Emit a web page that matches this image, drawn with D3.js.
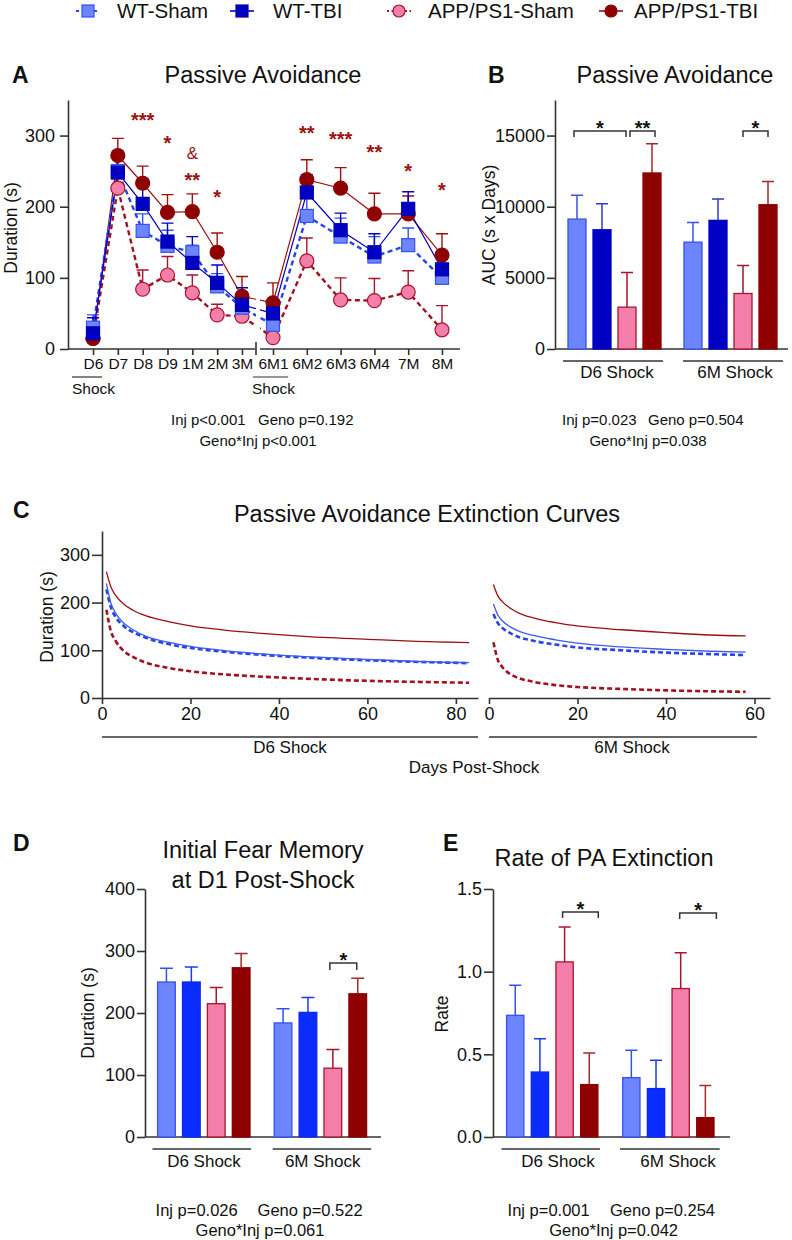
<!DOCTYPE html>
<html><head><meta charset="utf-8">
<script src="https://cdn.jsdelivr.net/npm/d3@7"></script>
<style>body{margin:0;background:#fff} svg{display:block;font-family:"Liberation Sans",Arial,Helvetica,sans-serif}</style>
</head><body><svg id="fig" width="792" height="1240"></svg>
<script>
// ================= DATA =================
const groups = ["WT-Sham","WT-TBI","APP/PS1-Sham","APP/PS1-TBI"];
const shockGroups = ["D6 Shock","6M Shock"];

// Panel A: passive avoidance over time
const tpA1 = ["D6","D7","D8","D9","1M","2M","3M"];
const tpA2 = ["6M1","6M2","6M3","6M4","7M","8M"];
const paWTSham   = [30,250,166,145,136,88,58,   34,187,158,130,146,100];
const paWTTBI    = [22,248,204,151,121,93,62,   50,220,167,136,197,112];
const paAPPSham  = [15,226,84,104,79,48,46,     16,124,69,68,80,27];
const paAPPTBI   = [15,272,233,192,193,136,74,  65,238,226,190,190,132];
const paErrWTSham  = [18,22,24,22,10,18,22,  24,25,26,28,24,15];
const paErrWTTBI   = [22,25,25,26,37,25,24,  15,25,24,26,24,18];
const paErrAPPSham = [10,20,27,26,25,15,12,  10,32,31,31,30,34];
const paErrAPPTBI  = [20,24,24,25,25,27,28,  28,28,29,29,25,30];
const sigA = [
  {tp:"D8", y:115, t:"***"},{tp:"D9", y:138, t:"*"},{tp:"1M", y:153, t:"&"},
  {tp:"1M", y:175, t:"**"},{tp:"2M", y:192, t:"*"},{tp:"6M2", y:128, t:"**"},
  {tp:"6M3", y:134, t:"***"},{tp:"6M4", y:147, t:"**"},{tp:"7M", y:166, t:"*"},
  {tp:"8M", y:185, t:"*"}
];

// Panel B: AUC
const aucD6    = [9130, 8380, 2940, 12370];
const aucErrD6 = [1670, 1830, 2430, 2060];
const auc6M    = [7510, 9040, 3900, 10140];
const aucErr6M = [1380, 1500, 1970, 1640];

// Panel C: extinction curves  [day, duration]
const cD6APPTBI  = [[1,265],[2,233],[3,216],[5,196],[7,184],[10,172],[15,160],[20,151],[30,140],[40,133],[50,127],[60,123],[70,119],[83,116]];
const cD6WTTBI   = [[1,240],[2,199],[3,179],[5,156],[7,143],[10,129],[15,117],[20,108],[30,97],[40,90],[50,85],[60,81],[70,77],[83,74]];
const cD6WTSham  = [[1,228],[2,190],[3,171],[5,150],[7,138],[10,126],[15,113],[20,105],[30,95],[40,88],[50,83],[60,79],[70,76],[83,73]];
const cD6APPSham = [[1,185],[2,140],[3,121],[5,98],[7,86],[10,74],[15,63],[20,56],[30,48],[40,43],[50,39],[60,36],[70,34],[83,32]];
const c6MAPPTBI  = [[1,238],[2,214],[3,202],[5,187],[7,177],[10,168],[15,158],[20,151],[30,143],[40,137],[50,132],[58,130]];
const c6MWTTBI   = [[1,197],[2,174],[3,162],[5,148],[7,139],[10,131],[15,122],[20,115],[30,107],[40,102],[50,98],[58,96]];
const c6MWTSham  = [[1,176],[2,157],[3,147],[5,135],[7,127],[10,120],[15,112],[20,106],[30,100],[40,95],[50,92],[58,90]];
const c6MAPPSham = [[1,117],[2,80],[3,65],[5,49],[7,41],[10,34],[15,27],[20,23],[30,19],[40,16],[50,14],[58,13]];

// Panel D: initial fear memory
const ifmD6    = [250, 250, 215, 273];
const ifmErrD6 = [22, 24, 26, 23];
const ifm6M    = [184, 201, 111, 231];
const ifmErr6M = [23, 24, 30, 25];

// Panel E: rate of extinction
const rateD6    = [0.736, 0.393, 1.059, 0.317];
const rateErrD6 = [0.182, 0.202, 0.211, 0.191];
const rate6M    = [0.359, 0.293, 0.898, 0.117];
const rateErr6M = [0.165, 0.171, 0.217, 0.194];

const statsA = ["Inj p<0.001","Geno p=0.192","Geno*Inj p<0.001"];
const statsB = ["Inj p=0.023","Geno p=0.504","Geno*Inj p=0.038"];
const statsD = ["Inj p=0.026","Geno p=0.522","Geno*Inj p=0.061"];
const statsE = ["Inj p=0.001","Geno p=0.254","Geno*Inj p=0.042"];

// ================= STYLE =================
const COL = {
  wtSham:"#6d86ff", wtShamStroke:"#3451ee", wtShamLine:"#2743e8",
  wtTBI:"#0000c4", wtTBIBright:"#0a2cff", wtTBIStroke:"#0000a8",
  appSham:"#f57fab", appShamStroke:"#a8142c", appShamLine:"#a3101e",
  appTBI:"#8f0000", appTBILine:"#9e1010",
  axis:"#333", text:"#111", star:"#9c1111"
};
const svg = d3.select("#fig");

function txt(g, x, yc, s, o = {}) {
  const size = o.size || 16;
  return g.append("text").attr("x", x).attr("y", yc + (o.k != null ? o.k : 0.36) * size)
    .attr("font-size", size).attr("text-anchor", o.anchor || "middle")
    .attr("font-weight", o.weight || "normal").attr("fill", o.fill || COL.text).text(s);
}
function vtxt(g, x, yc, s, size) {
  g.append("text").attr("transform", `translate(${x},${yc}) rotate(-90)`)
    .attr("text-anchor", "middle").attr("dy", "0.36em").attr("font-size", size)
    .attr("fill", COL.text).text(s);
}
function styleAxis(sel, size) {
  sel.attr("font-family", null).attr("font-size", null);
  sel.select(".domain").attr("stroke", COL.axis).attr("stroke-width", 1.6);
  sel.selectAll(".tick line").attr("stroke", COL.axis).attr("stroke-width", 1.6);
  sel.selectAll(".tick text").attr("fill", COL.text).attr("font-size", size);
}
function axisY(g, scale, x, ticks, fmt, tickSize, pad, size) {
  g.append("g").attr("transform", `translate(${x},0)`)
    .call(d3.axisLeft(scale).tickValues(ticks).tickFormat(fmt).tickSize(tickSize).tickSizeOuter(0).tickPadding(pad))
    .call(s => styleAxis(s, size));
}
function hline(g, x1, x2, y, w = 1.6) {
  g.append("line").attr("x1", x1).attr("x2", x2).attr("y1", y).attr("y2", y)
    .attr("stroke", COL.axis).attr("stroke-width", w);
}
function bracket(g, x1, x2, y, label, drop = 6) {
  g.append("path").attr("d", `M${x1},${y + drop}V${y}H${x2}V${y + drop}`)
    .attr("fill", "none").attr("stroke", COL.axis).attr("stroke-width", 1.5);
  txt(g, (x1 + x2) / 2, y - 8, label, { size: 20, k: 0.6, weight: "bold" });
}
function marker(g, shape, x, y, fill, stroke, size) {
  if (shape === "square") {
    g.append("rect").attr("x", x - size / 2).attr("y", y - size / 2).attr("width", size).attr("height", size)
      .attr("fill", fill).attr("stroke", stroke).attr("stroke-width", 1.2);
  } else {
    g.append("circle").attr("cx", x).attr("cy", y).attr("r", size / 2)
      .attr("fill", fill).attr("stroke", stroke).attr("stroke-width", 1.2);
  }
}

// ================= LEGEND =================
const legendItems = [
  { name: groups[0], mx: 88,  tx: 117, shape: "square", fill: COL.wtSham, stroke: COL.wtShamStroke, line: COL.wtShamLine, dash: "3,3" },
  { name: groups[1], mx: 242, tx: 273, shape: "square", fill: COL.wtTBI, stroke: COL.wtTBIStroke, line: COL.wtTBI, dash: null },
  { name: groups[2], mx: 399, tx: 428, shape: "circle", fill: COL.appSham, stroke: COL.appShamStroke, line: COL.appShamLine, dash: "2,2.5" },
  { name: groups[3], mx: 611, tx: 634, shape: "circle", fill: COL.appTBI, stroke: COL.appTBI, line: COL.appTBILine, dash: null }
];
const gL = svg.append("g");
legendItems.forEach(it => {
  gL.append("line").attr("x1", it.mx - 12).attr("x2", it.mx + 12).attr("y1", 11).attr("y2", 11)
    .attr("stroke", it.line).attr("stroke-width", it.dash ? 1.8 : 1.6).attr("stroke-dasharray", it.dash);
  marker(gL, it.shape, it.mx, 11, it.fill, it.stroke, 12);
  txt(gL, it.tx, 11, it.name, { size: 20.5, anchor: "start" });
});

// ================= PANEL A =================
const gA = svg.append("g");
const yA = d3.scaleLinear().domain([0, 350]).range([349, 100]);
const xA1 = d3.scalePoint().domain(tpA1).range([93, 242]);
const xA2 = d3.scalePoint().domain(tpA2).range([273, 442]);
const allTp = tpA1.concat(tpA2);
const xA = tp => tpA1.includes(tp) ? xA1(tp) : xA2(tp);

txt(gA, 12, 75, "A", { size: 23, anchor: "start", weight: "bold" });
txt(gA, 263, 75, "Passive Avoidance", { size: 23.5 });
vtxt(gA, 11, 228, "Duration (s)", 17.5);
axisY(gA, yA, 68, [0, 100, 200, 300], d3.format("d"), 8, 5, 18);
hline(gA, 68, 255, 349);
hline(gA, 260, 460, 349);
gA.append("line").attr("x1", 256).attr("x2", 256).attr("y1", 342).attr("y2", 355).attr("stroke", COL.axis).attr("stroke-width", 1.6);
[[xA1, 349], [xA2, 349]].forEach(([sc, y]) => {
  const ax = gA.append("g").attr("transform", `translate(0,${y})`)
    .call(d3.axisBottom(sc).tickSize(6).tickSizeOuter(0).tickPadding(3));
  ax.select(".domain").remove();
  styleAxis(ax, 15.5);
});
// "Shock" labels
txt(gA, 72, 388, "Shock", { size: 15.5, anchor: "start" });
hline(gA, 72, 102, 377, 1.2);
txt(gA, 252, 388, "Shock", { size: 15.5, anchor: "start" });
hline(gA, 253, 288, 377, 1.2);

const defs = svg.append("defs");
defs.append("clipPath").attr("id", "clipA1").append("rect").attr("x", 60).attr("y", 80).attr("width", 196).attr("height", 290);
defs.append("clipPath").attr("id", "clipA2").append("rect").attr("x", 260).attr("y", 80).attr("width", 210).attr("height", 290);

const seriesA = [
  { v: paAPPSham, e: paErrAPPSham, shape: "circle", fill: COL.appSham, stroke: COL.appShamStroke, line: COL.appShamLine, lw: 2.4, dash: "5,3.5", err: COL.appShamStroke },
  { v: paAPPTBI,  e: paErrAPPTBI,  shape: "circle", fill: COL.appTBI, stroke: COL.appTBI, line: COL.appTBILine, lw: 1.2, dash: null, err: COL.appTBILine },
  { v: paWTSham,  e: paErrWTSham,  shape: "square", fill: COL.wtSham, stroke: COL.wtShamStroke, line: COL.wtShamLine, lw: 2.4, dash: "5,3.5", err: COL.wtShamStroke },
  { v: paWTTBI,   e: paErrWTTBI,   shape: "square", fill: COL.wtTBI, stroke: COL.wtTBIStroke, line: COL.wtTBI, lw: 1.2, dash: null, err: COL.wtTBI }
];
const lineA = d3.line().x((d, i) => xA(allTp[i])).y(d => yA(d));
seriesA.forEach(s => {
  ["clipA1", "clipA2"].forEach(c => {
    gA.append("path").attr("d", lineA(s.v)).attr("fill", "none").attr("stroke", s.line)
      .attr("stroke-width", s.lw).attr("stroke-dasharray", s.dash).attr("clip-path", `url(#${c})`);
  });
});
seriesA.forEach(s => {
  s.v.forEach((v, i) => {
    const x = xA(allTp[i]), y0 = yA(v), y1 = yA(v + s.e[i]);
    gA.append("path").attr("d", `M${x},${y0}V${y1}M${x - 6},${y1}H${x + 6}`)
      .attr("stroke", s.err).attr("stroke-width", 1.4).attr("fill", "none");
  });
});
seriesA.forEach(s => {
  s.v.forEach((v, i) => marker(gA, s.shape, xA(allTp[i]), yA(v), s.fill, s.stroke, s.shape === "square" ? 13 : 14));
});
sigA.forEach(d => {
  if (d.t === "&") txt(gA, xA(d.tp), d.y, d.t, { size: 17, fill: COL.star });
  else txt(gA, xA(d.tp), d.y, d.t, { size: 20, k: 0.6, fill: COL.star, weight: "bold" });
});
txt(gA, 171, 420, statsA[0], { size: 15, anchor: "start" });
txt(gA, 258, 420, statsA[1], { size: 15, anchor: "start" });
txt(gA, 258, 441, statsA[2], { size: 15 });

// ================= BAR HELPER =================
function drawBars(g, y, xg, xin, vals, errs, colors, capW) {
  vals.forEach((arr, gi) => {
    const gx = xg(shockGroups[gi]);
    arr.forEach((v, i) => {
      const x = gx + xin(groups[i]), w = xin.bandwidth(), c = colors[i];
      const y1 = y(v + errs[gi][i]), cx = x + w / 2;
      g.append("path").attr("d", `M${cx},${y(v)}V${y1}M${cx - capW / 2},${y1}H${cx + capW / 2}`)
        .attr("stroke", c.err).attr("stroke-width", 1.5).attr("fill", "none");
      g.append("rect").attr("x", x).attr("y", y(v)).attr("width", w).attr("height", y(0) - y(v))
        .attr("fill", c.fill).attr("stroke", c.stroke).attr("stroke-width", 1.3);
    });
  });
}
function groupLabels(g, ranges, yLine, yText) {
  ranges.forEach((r, i) => {
    hline(g, r[0], r[1], yLine, 1.6);
    txt(g, r[2], yText, shockGroups[i], { size: 17 });
  });
}

// ================= PANEL B =================
const gB = svg.append("g");
const yB = d3.scaleLinear().domain([0, 17500]).range([349, 100]);
txt(gB, 488, 75, "B", { size: 23, anchor: "start", weight: "bold" });
txt(gB, 675, 75, "Passive Avoidance", { size: 23.5 });
vtxt(gB, 489, 225, "AUC (s x Days)", 17.5);
axisY(gB, yB, 555, [0, 5000, 10000, 15000], d3.format("d"), 8, 2, 18);
hline(gB, 555, 788, 349);
const xBg = d3.scalePoint().domain(shockGroups).range([568, 684]);
const xBi = d3.scaleBand().domain(groups).range([0, 93]).paddingInner(0.28);
const colorsB = [
  { fill: COL.wtSham, stroke: COL.wtShamStroke, err: COL.wtShamStroke },
  { fill: COL.wtTBI, stroke: COL.wtTBI, err: "#2a3ccc" },
  { fill: COL.appSham, stroke: COL.appShamStroke, err: COL.appShamStroke },
  { fill: COL.appTBI, stroke: COL.appTBI, err: "#a52a2a" }
];
drawBars(gB, yB, xBg, xBi, [aucD6, auc6M], [aucErrD6, aucErr6M], colorsB, 12);
const cB = (gi, i) => xBg(shockGroups[gi]) + xBi(groups[i]) + xBi.bandwidth() / 2;
bracket(gB, cB(0, 0) - 3, cB(0, 2) - 1, 131, "*");
bracket(gB, cB(0, 2) + 3, cB(0, 3) + 3, 131, "**");
bracket(gB, cB(1, 2), cB(1, 3), 131, "*");
groupLabels(gB, [[563, 663, 617], [683, 783, 735]], 361, 372);
txt(gB, 562, 420, statsB[0], { size: 15, anchor: "start" });
txt(gB, 648, 420, statsB[1], { size: 15, anchor: "start" });
txt(gB, 648, 441, statsB[2], { size: 15 });

// ================= PANEL C =================
const gC = svg.append("g");
const yC = d3.scaleLinear().domain([0, 350]).range([698, 531]);
const xC1 = d3.scaleLinear().domain([0, 85]).range([102, 478]);
const xC2 = d3.scaleLinear().domain([0, 63.5]).range([489, 770]);
txt(gC, 13, 510, "C", { size: 23, anchor: "start", weight: "bold" });
txt(gC, 427, 514, "Passive Avoidance Extinction Curves", { size: 23.5 });
vtxt(gC, 47, 617, "Duration (s)", 17.5);
axisY(gC, yC, 102, [0, 100, 200, 300], d3.format("d"), 10, 2, 18);
[[xC1, [0, 20, 40, 60, 80]], [xC2, [0, 20, 40, 60]]].forEach(([sc, tv]) => {
  gC.append("g").attr("transform", "translate(0,698)")
    .call(d3.axisBottom(sc).tickValues(tv).tickSize(6).tickSizeOuter(0).tickPadding(3))
    .call(s => styleAxis(s, 18));
});
const curvesC = [
  { d: cD6APPSham, sc: xC1, col: COL.appShamLine, lw: 2.6, dash: "5,3" },
  { d: cD6WTSham,  sc: xC1, col: COL.wtShamLine,  lw: 2.6, dash: "5,3" },
  { d: cD6WTTBI,   sc: xC1, col: "#3a5cf0", lw: 1.3, dash: null },
  { d: cD6APPTBI,  sc: xC1, col: COL.appTBILine, lw: 1.3, dash: null },
  { d: c6MAPPSham, sc: xC2, col: COL.appShamLine, lw: 2.6, dash: "5,3" },
  { d: c6MWTSham,  sc: xC2, col: COL.wtShamLine,  lw: 2.6, dash: "5,3" },
  { d: c6MWTTBI,   sc: xC2, col: "#3a5cf0", lw: 1.3, dash: null },
  { d: c6MAPPTBI,  sc: xC2, col: COL.appTBILine, lw: 1.3, dash: null }
];
curvesC.forEach(c => {
  const ln = d3.line().curve(d3.curveMonotoneX).x(d => c.sc(d[0])).y(d => yC(d[1]));
  gC.append("path").attr("d", ln(c.d)).attr("fill", "none").attr("stroke", c.col)
    .attr("stroke-width", c.lw).attr("stroke-dasharray", c.dash);
});
hline(gC, 102, 478, 737);
hline(gC, 489, 757, 737);
txt(gC, 290, 747, shockGroups[0], { size: 17 });
txt(gC, 632, 747, shockGroups[1], { size: 17 });
txt(gC, 474, 767, "Days Post-Shock", { size: 17 });

// ================= PANEL D =================
const gD = svg.append("g");
const yD = d3.scaleLinear().domain([0, 400]).range([1137, 889]);
txt(gD, 13, 843, "D", { size: 23, anchor: "start", weight: "bold" });
txt(gD, 263, 850, "Initial Fear Memory", { size: 23.5 });
txt(gD, 263, 880, "at D1 Post-Shock", { size: 23.5 });
vtxt(gD, 88, 1013, "Duration (s)", 17.5);
axisY(gD, yD, 145, [0, 100, 200, 300, 400], d3.format("d"), 8, 2, 18);
hline(gD, 145, 381, 1137);
const xDg = d3.scalePoint().domain(shockGroups).range([157.6, 274.2]);
const xDi = d3.scaleBand().domain(groups).range([0, 92.4]).paddingInner(0.29);
const colorsDE = [
  { fill: COL.wtSham, stroke: COL.wtShamStroke, err: COL.wtShamStroke },
  { fill: COL.wtTBIBright, stroke: "#0a28f0", err: "#1a3cf0" },
  { fill: COL.appSham, stroke: COL.appShamStroke, err: COL.appShamStroke },
  { fill: COL.appTBI, stroke: COL.appTBI, err: "#a52a2a" }
];
drawBars(gD, yD, xDg, xDi, [ifmD6, ifm6M], [ifmErrD6, ifmErr6M], colorsDE, 13);
const cD = (gi, i) => xDg(shockGroups[gi]) + xDi(groups[i]) + xDi.bandwidth() / 2;
bracket(gD, cD(1, 2) - 3, cD(1, 3) - 1, 963, "*", 7);
groupLabels(gD, [[152.5, 251, 204], [272.7, 371.2, 322.7]], 1149, 1161);
txt(gD, 155.6, 1210, statsD[0], { size: 16.5, anchor: "start" });
txt(gD, 257.6, 1210, statsD[1], { size: 16.5, anchor: "start" });
txt(gD, 260, 1230, statsD[2], { size: 16.5 });

// ================= PANEL E =================
const gE = svg.append("g");
const yE = d3.scaleLinear().domain([0, 1.5]).range([1137, 889]);
txt(gE, 443, 843, "E", { size: 23, anchor: "start", weight: "bold" });
txt(gE, 604, 858, "Rate of PA Extinction", { size: 23.5 });
vtxt(gE, 442, 1014, "Rate", 17.5);
axisY(gE, yE, 493, [0, 0.5, 1.0, 1.5], d3.format(".1f"), 9, 2, 18);
hline(gE, 493, 730, 1137);
const xEg = d3.scalePoint().domain(shockGroups).range([506.6, 622.7]);
const xEi = d3.scaleBand().domain(groups).range([0, 91.3]).paddingInner(0.3);
drawBars(gE, yE, xEg, xEi, [rateD6, rate6M], [rateErrD6, rateErr6M], colorsDE, 12);
const cE = (gi, i) => xEg(shockGroups[gi]) + xEi(groups[i]) + xEi.bandwidth() / 2;
bracket(gE, cE(0, 2) - 2, cE(0, 3) + 9, 912, "*");
bracket(gE, cE(1, 2) - 1, cE(1, 3) + 11, 913, "*");
groupLabels(gE, [[501.5, 600, 558], [620, 719.7, 678]], 1149, 1161);
txt(gE, 507.6, 1210, statsE[0], { size: 16.5, anchor: "start" });
txt(gE, 610, 1210, statsE[1], { size: 16.5, anchor: "start" });
txt(gE, 613.6, 1230, statsE[2], { size: 16.5 });
</script></body></html>
